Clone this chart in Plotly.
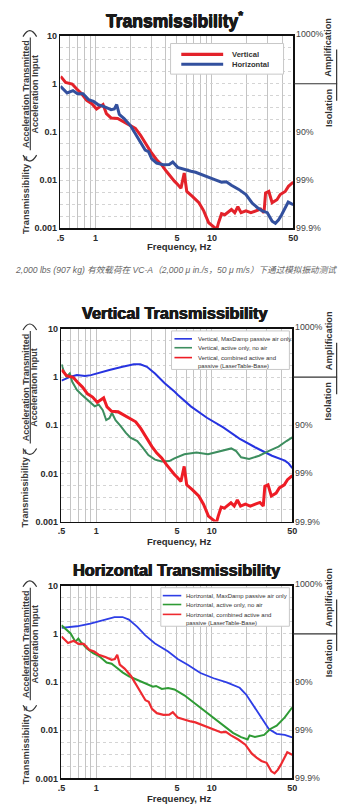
import math
import plotly.graph_objects as go

W, H = 347, 811

# ---------------- data ----------------
freq_ticks = [0.5, 0.6, 0.7, 0.8, 0.9, 1, 2, 3, 4, 5, 6, 7, 8, 9, 10, 20, 30, 40, 50]
freq_tick_text = [".5", "", "", "", "", "1", "", "", "", "5", "", "", "", "", "10", "", "", "", "50"]
t_ticks = [0.001, 0.01, 0.1, 1, 10]
t_tick_text = ["0.001", "0.01", "0.1", "1", "10"]
right_levels = [10, 0.1, 0.01, 0.001]
right_labels = ["1000%", "90%", "99%", "99.9%"]

titles = ["Transmissibility<sup>*</sup>", "Vertical Transmissibility", "Horizontal Transmissibility"]
caption = "2,000 lbs (907 kg) 有效载荷在 VC-A（2,000 μ in./s，50 μ m/s）下通过模拟振动测试"

# Chart 1: vertical / horizontal (combined active + passive)
vert_f = [0.5, 0.51, 0.553, 0.63, 0.69, 0.76, 0.84, 0.93, 1.02, 1.09,
          1.16, 1.24, 1.36, 1.55, 1.71, 1.94, 2.2, 2.43, 2.67, 3.04,
          3.35, 3.69, 4.06, 4.47, 4.76, 5.08, 5.42, 5.78, 6.08, 6.79,
          7.73, 8.5, 9.38, 10.3, 11.0, 11.4, 12.1, 12.9, 13.8, 14.7,
          15.7, 16.7, 17.8, 19.6, 21.6, 23.8, 26.2, 28.0, 28.9, 30.8,
          32.9, 36.2, 38.6, 42.6, 45.4, 49.1, 50]
vert_t = [1.4, 1.36, 1.07, 0.99, 0.78, 0.62, 0.45, 0.385, 0.30, 0.33,
          0.37, 0.24, 0.195, 0.19, 0.167, 0.138, 0.118, 0.086, 0.058, 0.036,
          0.0264, 0.0209, 0.0152, 0.0111, 0.0095, 0.0081, 0.0068, 0.014, 0.0058, 0.0046,
          0.0034, 0.0023, 0.0013, 0.00108, 0.00095, 0.0013, 0.002, 0.0019, 0.00216, 0.00245,
          0.0021, 0.0028, 0.0021, 0.0023, 0.0021, 0.0023, 0.0025, 0.0021, 0.0054, 0.0058,
          0.0034, 0.0039, 0.005, 0.0058, 0.0074, 0.0087, 0.009]
horiz_f = [0.5, 0.57, 0.64, 0.7, 0.78, 0.87, 0.96, 1.05, 1.2, 1.36,
           1.45, 1.52, 1.6, 1.76, 2.0, 2.2, 2.43, 2.67, 2.85, 3.04,
           3.35, 3.82, 4.3, 4.61, 5.08, 5.97, 6.6, 7.24, 8.79, 10.7,
           12.1, 13.3, 14.7, 17.0, 19.6, 22.2, 24.5, 27.0, 29.9, 32.9,
           35.1, 37.4, 39.7, 42.5, 45.2, 48.4, 50]
horiz_t = [0.885, 0.645, 0.72, 0.62, 0.62, 0.47, 0.43, 0.37, 0.33, 0.29,
           0.30, 0.37, 0.23, 0.19, 0.134, 0.093, 0.063, 0.042, 0.039, 0.0277,
           0.0226, 0.0209, 0.021, 0.0237, 0.0184, 0.0162, 0.0152, 0.0145, 0.0119, 0.0101,
           0.009, 0.0092, 0.0078, 0.0064, 0.005, 0.0033, 0.0027, 0.0023, 0.0021, 0.0014,
           0.00127, 0.0015, 0.0019, 0.0026, 0.0035, 0.0032, 0.0031]

# Chart 2: vertical
vpass_f = [0.5, 0.6, 0.68, 0.8, 0.9, 1.0, 1.3, 1.69, 2.12, 2.41,
           2.75, 3.23, 3.92, 4.76, 5.08, 6.6, 9.1, 12.6, 17.4, 24,
           33.3, 43.1, 46.5, 50]
vpass_t = [0.845, 1.02, 1.1, 1.05, 1.1, 1.19, 1.4, 1.64, 1.85, 1.85,
           1.64, 1.19, 0.745, 0.5, 0.43, 0.247, 0.143, 0.09, 0.053, 0.0345,
           0.0233, 0.0184, 0.016, 0.0128]
vact_f = [0.5, 0.52, 0.553, 0.59, 0.62, 0.68, 0.75, 0.83, 0.88, 0.97,
          1.05, 1.14, 1.22, 1.3, 1.37, 1.47, 1.63, 1.8, 1.98, 2.27,
          2.49, 2.83, 3.23, 3.7, 4.3, 4.76, 5.8, 7.4, 9.3, 11.0,
          14.8, 16.3, 18.0, 21.1, 25.8, 31.4, 38, 44.5, 50]
vact_t = [1.85, 1.4, 1.02, 1.19, 0.8, 0.54, 0.43, 0.34, 0.31, 0.247,
          0.27, 0.205, 0.128, 0.14, 0.18, 0.128, 0.096, 0.07, 0.055, 0.047,
          0.036, 0.024, 0.0193, 0.0176, 0.018, 0.0206, 0.025, 0.0273, 0.025, 0.0273,
          0.033, 0.029, 0.0216, 0.02, 0.0233, 0.0295, 0.036, 0.047, 0.056]
vcomb_f = vert_f
vcomb_t = vert_t

# Chart 3: horizontal
hpass_f = [0.5, 0.68, 0.89, 1.15, 1.44, 1.69, 1.92, 2.27, 2.65, 3.23,
           4.2, 5.08, 6.2, 8.0, 10.4, 13.5, 17.5, 19.9, 22.6, 26.6,
           31.3, 36.6, 43, 49, 50]
hpass_t = [1.33, 1.44, 1.64, 1.91, 2.24, 2.24, 1.98, 1.4, 0.94, 0.635,
           0.43, 0.3, 0.229, 0.154, 0.12, 0.098, 0.076, 0.055, 0.0345, 0.0184,
           0.0106, 0.0084, 0.008, 0.0072, 0.0072]
hact_f = [0.5, 0.54, 0.6, 0.66, 0.7, 0.73, 0.83, 0.94, 1.07, 1.23,
          1.36, 1.48, 1.69, 1.92, 2.27, 2.65, 3.1, 3.3, 3.7, 4.2,
          4.76, 5.8, 7.4, 9.3, 12.6, 15.3, 18, 20.5, 21.3, 23.7,
          28.5, 32.2, 36.6, 43, 49.8]
hact_t = [1.51, 1.29, 1.02, 0.69, 0.8, 0.69, 0.5, 0.4, 0.34, 0.255,
          0.24, 0.205, 0.159, 0.132, 0.112, 0.093, 0.08, 0.083, 0.072, 0.075,
          0.07, 0.053, 0.034, 0.0225, 0.013, 0.0088, 0.0072, 0.0064, 0.0078, 0.0072,
          0.008, 0.0106, 0.0124, 0.0184, 0.0296]
hcomb_f = horiz_f
hcomb_t = horiz_t

legend_names = [
    ["Vertical", "Horizontal"],
    ["Vertical, MaxDamp passive air only", "Vertical, active only, no air",
     "Vertical, combined active and<br>passive (LaserTable-Base)"],
    ["Horizontal, MaxDamp passive air only", "Horizontal, active only, no air",
     "Horizontal, combined active and<br>passive (LaserTable-Base)"],
]

# ---------------- layout helpers ----------------
def X(p):
    return p / W

def Y(p):
    return 1 - p / H

FONT = "Liberation Sans, Arial, sans-serif"
DARK = "#2b2b2b"
HEAVY = "0.45px 0 0 #1a1a1a, -0.45px 0 0 #1a1a1a, 0 0.3px 0 #1a1a1a"

panels = [
    dict(l=58, r=297, t=31, b=226, flab=19, ttl=175, tsize=17.5,
         series=[(vert_f, vert_t, "#e3222a", 3.0), (horiz_f, horiz_t, "#33509e", 3.0)],
         leg=dict(bx0=171, bx1=287, by0=8, by1=39, lx0=182, lx1=225, tx=232,
                  rows=[19, 29], lw=3.2, fs=7.6, bold=True)),
    dict(l=59, r=296, t=328, b=523, flab=20, ttl=176, tsize=16.3,
         series=[(vpass_f, vpass_t, "#2633e0", 2.0), (vact_f, vact_t, "#3d8e5f", 2.0),
                 (vcomb_f, vcomb_t, "#ee1c25", 3.0)],
         leg=dict(bx0=172, bx1=293, by0=2, by1=41, lx0=175, lx1=193, tx=197,
                  rows=[10, 19, 29], lw=1.6, fs=6, bold=False)),
    dict(l=59, r=296, t=588, b=783, flab=20, ttl=177, tsize=16.3,
         series=[(hpass_f, hpass_t, "#2e3ee6", 1.8), (hact_f, hact_t, "#2f9b35", 2.0),
                 (hcomb_f, hcomb_t, "#ee2a30", 2.2)],
         leg=dict(bx0=161, bx1=293, by0=2, by1=41, lx0=163, lx1=182, tx=185,
                  rows=[10, 19, 29], lw=1.6, fs=6, bold=False)),
]

fig = go.Figure()
shapes = []
annotations = []
layout_axes = {}

minor_y = [10 ** (k / 4) for k in range(-12, 5)]


def ann(text, xp, yp, size, color="#333", bold=False, angle=0, xanchor="center", yanchor="middle",
        yref="paper", yval=None, **kw):
    d = dict(text=text, x=X(xp), y=(Y(yp) if yval is None else yval), xref="paper", yref=yref,
             showarrow=False, xanchor=xanchor, yanchor=yanchor, textangle=angle,
             font=dict(family=FONT, size=size, color=color, weight="bold" if bold else "normal"))
    d.update(kw)
    annotations.append(d)


for i, pnl in enumerate(panels):
    n = "" if i == 0 else str(i + 1)
    xa, ya = "x" + n, "y" + n
    for (fx, ty, col, lw) in pnl["series"]:
        fig.add_trace(go.Scatter(x=fx, y=ty, mode="lines", xaxis=xa, yaxis=ya,
                                 line=dict(color=col, width=lw), showlegend=False,
                                 hoverinfo="skip"))
    tickfont = dict(family=FONT, size=9, color=DARK, weight="bold")
    layout_axes["xaxis" + n] = dict(
        type="log", range=[math.log10(0.5), math.log10(50)],
        domain=[X(pnl["l"]), X(pnl["r"])], anchor=ya,
        tickmode="array", tickvals=freq_ticks, ticktext=freq_tick_text, tickangle=0,
        showgrid=True, gridcolor="#c4c4c4", gridwidth=1,
        showline=True, linecolor="#111", linewidth=1.6, mirror=True,
        ticks="", tickfont=tickfont, zeroline=False, fixedrange=True)
    layout_axes["yaxis" + n] = dict(
        type="log", range=[-3, 1],
        domain=[Y(pnl["b"]), Y(pnl["t"])], anchor=xa,
        tickmode="array", tickvals=t_ticks, ticktext=t_tick_text, tickangle=0,
        showgrid=True, gridcolor="#d4d4d4", griddash="dot", gridwidth=1,
        minor=dict(tickmode="array", tickvals=minor_y, showgrid=True,
                   gridcolor="#d4d4d4", griddash="dot", gridwidth=1, ticks=""),
        showline=True, linecolor="#111", linewidth=1.6, mirror=True,
        ticks="", tickfont=tickfont, zeroline=False, fixedrange=True)

    t, b, l, r = pnl["t"], pnl["b"], pnl["l"], pnl["r"]
    dec = (b - t) / 4.0

    # title
    annotations.append(dict(text=titles[i], x=X(pnl["ttl"]), y=Y(t - 16), xref="paper", yref="paper",
                            showarrow=False, xanchor="center", yanchor="middle",
                            font=dict(family=FONT, size=pnl["tsize"], color="#1a1a1a", weight="bold",
                                      shadow=HEAVY)))
    # x label
    ann("Frequency, Hz", (l + r) / 2 + 2, b + pnl["flab"], 9.5, color=DARK, bold=True)
    # right % labels
    for lev, lab in zip(right_levels, right_labels):
        ann(lab, r + 1, 0, 8.8, color="#444", xanchor="left", yref=ya, yval=math.log10(lev),
            yshift=2 if lev == 10 else 0)
    # Amplification / Isolation
    ann("Amplification", 333, t + 12, 9.3, bold=True, angle=-90)
    ann("Isolation", 333, t + 73, 9.3, bold=True, angle=-90)
    shapes.append(dict(type="line", xref="paper", yref="paper", x0=X(r + 1), x1=X(342),
                       y0=Y(t + dec), y1=Y(t + dec), line=dict(color="#333", width=1.2)))
    shapes.append(dict(type="line", xref="paper", yref="paper", x0=X(341.5), x1=X(341.5),
                       y0=Y(t + 14), y1=Y(t + 66), line=dict(color="#333", width=1.2)))

    # left label
    ann("Transmissibility =", 22, t + 161, 9.3, color="#3a3a3a", bold=True, angle=-90)
    ann("Acceleration Transmitted", 22.6, t + 59, 9.0, color="#3a3a3a", bold=True, angle=-90)
    ann("Acceleration Input", 31.4, t + 59, 9.0, color="#3a3a3a", bold=True, angle=-90)
    shapes.append(dict(type="line", xref="paper", yref="paper", x0=X(27), x1=X(27),
                       y0=Y(t + 2), y1=Y(t + 116), line=dict(color="#333", width=1.1)))
    # parentheses
    shapes.append(dict(type="path", xref="paper", yref="paper",
                       path="M{},{} Q{},{} {},{}".format(X(19.5), Y(t + 121), X(26.5), Y(t + 133),
                                                         X(33.5), Y(t + 121)),
                       line=dict(color="#333", width=1.2)))
    shapes.append(dict(type="path", xref="paper", yref="paper",
                       path="M{},{} Q{},{} {},{}".format(X(19.5), Y(t + 1), X(26.5), Y(t - 11),
                                                         X(33.5), Y(t + 1)),
                       line=dict(color="#333", width=1.2)))

    # legend box
    lg = pnl["leg"]
    shapes.append(dict(type="rect", xref="paper", yref="paper", x0=X(lg["bx0"]), x1=X(lg["bx1"]),
                       y0=Y(t + lg["by0"]), y1=Y(t + lg["by1"]), fillcolor="white",
                       line=dict(color="#c8c8c8", width=1), layer="above"))
    for (fx, ty, col, lw), name, row in zip(pnl["series"], legend_names[i], lg["rows"]):
        shapes.append(dict(type="line", xref="paper", yref="paper", x0=X(lg["lx0"]), x1=X(lg["lx1"]),
                           y0=Y(t + row), y1=Y(t + row), line=dict(color=col, width=lg["lw"]),
                           layer="above"))
        multi = "<br>" in name
        ann(name, lg["tx"], t + row - (4.2 if multi else 0), lg["fs"], color="#333", bold=lg["bold"],
            xanchor="left", yanchor="top" if multi else "middle", align="left")

# caption
annotations.append(dict(text="<i>" + caption + "</i>", x=X(177), y=Y(268), xref="paper", yref="paper",
                        showarrow=False, xanchor="center", yanchor="middle",
                        font=dict(family="Liberation Sans, Noto Sans CJK SC, sans-serif", size=8.6,
                                  color="#666")))

fig.update_layout(
    width=W, height=H, autosize=False,
    margin=dict(l=0, r=0, t=0, b=0),
    paper_bgcolor="white", plot_bgcolor="white",
    showlegend=False,
    shapes=shapes, annotations=annotations,
    **layout_axes,
)

fig.write_html("out.html", include_plotlyjs=True, config={"displayModeBar": False, "staticPlot": True})
